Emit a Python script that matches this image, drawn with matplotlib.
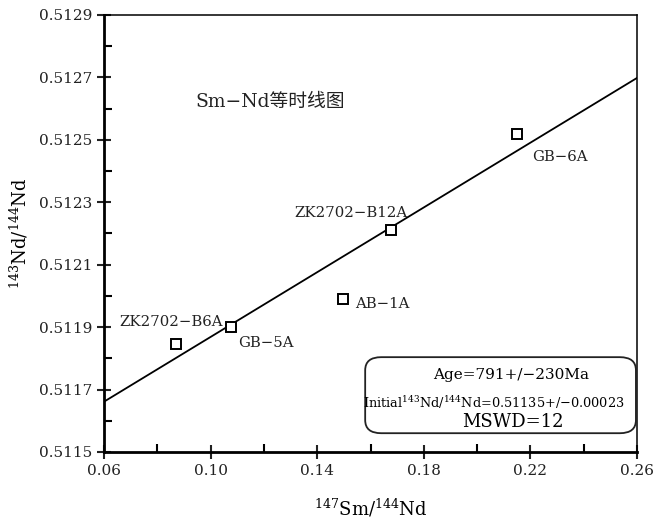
import numpy as np
import matplotlib.pyplot as plt
from matplotlib.patches import FancyBboxPatch
from matplotlib.ticker import FixedLocator, FormatStrFormatter

plt.rcParams['font.family'] = ['DejaVu Serif', 'Noto Sans CJK SC']
plt.rcParams['mathtext.fontset'] = 'dejavuserif'

# ---- data ----
samples = ["ZK2702\u2212B6A", "GB\u22125A", "AB\u22121A", "ZK2702\u2212B12A", "GB\u22126A"]
sm_nd = [0.0870, 0.1077, 0.1497, 0.1677, 0.2150]
nd_nd = [0.511845, 0.511900, 0.511989, 0.512211, 0.512520]

# isochron: slope and initial ratio
iso_slope = 0.005186
iso_initial = 0.51135
iso_x = [0.06, 0.26]

x_major = [0.06, 0.10, 0.14, 0.18, 0.22, 0.26]
x_minor = [0.08, 0.12, 0.16, 0.20, 0.24]
y_major = [0.5115, 0.5117, 0.5119, 0.5121, 0.5123, 0.5125, 0.5127, 0.5129]
y_minor = [0.5116, 0.5118, 0.5120, 0.5122, 0.5124, 0.5126, 0.5128]

# label offsets (points) and alignment
label_off = [(34, 16), (5, -11.5), (9, -3.6), (12, 12), (11, -16.5)]
label_ha = ["right", "left", "left", "right", "left"]

fig = plt.figure(figsize=(6.68, 5.26), dpi=100)
ax = fig.add_axes([0.1557, 0.1407, 0.7979, 0.8308])

iso_y = [iso_initial + iso_slope * x for x in iso_x]
ax.plot(iso_x, iso_y, color="black", lw=1.3, zorder=2)

ax.plot(sm_nd, nd_nd, ls="none", marker="s", ms=6.5, mfc="white",
        mec="black", mew=1.4, zorder=3)

for name, x, y, off, ha in zip(samples, sm_nd, nd_nd, label_off, label_ha):
    ax.annotate(name, (x, y), xytext=off, textcoords="offset points",
                ha=ha, va="center", fontsize=10.7, color="#222222")

ax.text(0.172, 0.8, "Sm\u2212Nd等时线图", transform=ax.transAxes,
        fontsize=13.5, ha="left", va="center", color="#222222")

# result box
box = FancyBboxPatch((0.49, 0.043), 0.508, 0.174, transform=ax.transAxes,
                     boxstyle="round,pad=0,rounding_size=0.03",
                     fc="white", ec="#222222", lw=1.3, zorder=4)
ax.add_patch(box)
ax.text(0.764, 0.176, "Age=791+/\u2212230Ma", transform=ax.transAxes,
        ha="center", va="center", fontsize=11, zorder=5)
ax.text(0.732, 0.112,
        r"Initial$^{143}$Nd/$^{144}$Nd=0.51135+/$-$0.00023",
        transform=ax.transAxes, ha="center", va="center", fontsize=9.3, zorder=5)
ax.text(0.767, 0.069, "MSWD=12", transform=ax.transAxes,
        ha="center", va="center", fontsize=13, zorder=5)

ax.set_xlim(0.06, 0.26)
ax.set_ylim(0.5115, 0.5129)
ax.xaxis.set_major_locator(FixedLocator(x_major))
ax.xaxis.set_minor_locator(FixedLocator(x_minor))
ax.yaxis.set_major_locator(FixedLocator(y_major))
ax.yaxis.set_minor_locator(FixedLocator(y_minor))
ax.xaxis.set_major_formatter(FormatStrFormatter("%.2f"))
ax.yaxis.set_major_formatter(FormatStrFormatter("%.4f"))
ax.tick_params(which="major", direction="inout", length=10, width=1.5,
               labelsize=11, colors="#222222")
ax.tick_params(which="minor", direction="in", length=6, width=1.5)

for s in ["left", "bottom"]:
    ax.spines[s].set_linewidth(2)
for s in ["top", "right"]:
    ax.spines[s].set_linewidth(1.1)

ax.set_xlabel(r"$^{147}$Sm/$^{144}$Nd", fontsize=13, labelpad=14)
ax.set_ylabel(r"$^{143}$Nd/$^{144}$Nd", fontsize=13, labelpad=6)

fig.savefig("out.png", dpi=100)
